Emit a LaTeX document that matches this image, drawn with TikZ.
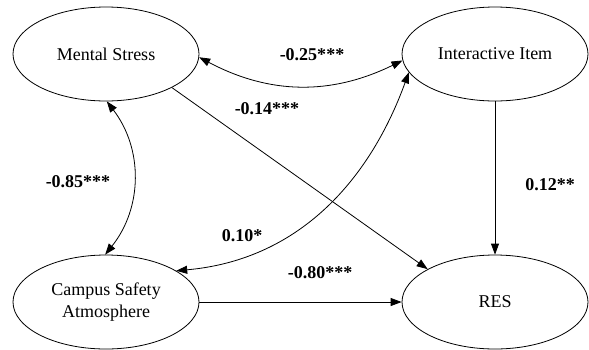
\documentclass[tikz,border=0pt]{standalone}
\usepackage{fontspec}
\setmainfont{Liberation Serif}
\usetikzlibrary{shapes.geometric,arrows.meta}

\begin{document}
\begin{tikzpicture}[x=1pt,y=-1pt,
		latent/.style={draw,ellipse,line width=0.8pt,minimum width=186pt,
			minimum height=94pt,inner sep=0pt,align=center,
			font=\fontsize{18}{22}\selectfont},
		coef/.style={font=\fontsize{18}{22}\selectfont\bfseries,inner sep=0pt},
		effect/.style={line width=0.8pt,-{Triangle[length=11pt,width=8pt]}},
		corr/.style={line width=0.8pt,
			{Triangle[length=11pt,width=8pt]}-{Triangle[length=11pt,width=8pt]}}
	]

	\useasboundingbox (0,0) rectangle (589,349);

	% Latent variables
	\node[latent] (ms)  at (106,54)  {Mental Stress};
	\node[latent] (ii)  at (495,54)  {Interactive Item};
	\node[latent] (cs)  at (106,302) {Campus Safety\\Atmosphere};
	\node[latent] (res) at (495,302) {RES};

	% Correlations
	\draw[corr] (ms.-2) to[bend right=27] (ii.184);
	\draw[corr] (ms.-89) to[bend left=38] (cs.91);
	\draw[corr] (cs.24) to[out=5,in=-110] (ii.192);

	% Effects
	\draw[effect] (ms.-27) -- (res.154);
	\draw[effect] (cs.east) -- (res.west);
	\draw[effect] (ii.south) -- (res.north);

	% Coefficients
	\node[coef] (c1) at (312,55)  {-0.25***};
	\node[coef] (c2) at (267,109) {-0.14***};
	\node[coef] (c3) at (78,182)  {-0.85***};
	\node[coef] (c4) at (242,236) {0.10*};
	\node[coef] (c5) at (320,273) {-0.80***};
	\node[coef] (c6) at (550,185) {0.12**};

\end{tikzpicture}
\end{document}
